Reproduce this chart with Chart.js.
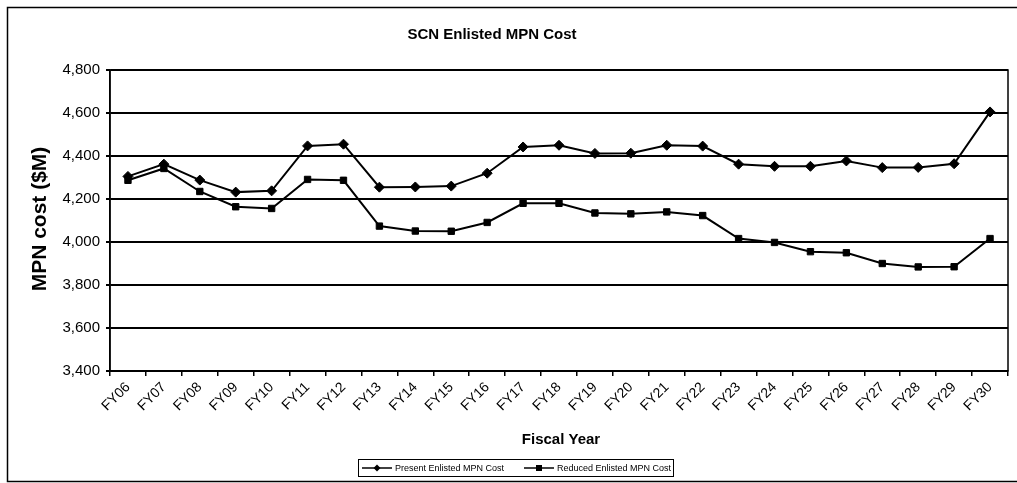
<!DOCTYPE html>
<html>
<head>
<meta charset="utf-8">
<script src="https://cdn.jsdelivr.net/npm/chart.js@4.4.1/dist/chart.umd.min.js"></script>
<style>
  html, body { margin: 0; padding: 0; background: #fff; }
  #wrap { width: 1017px; height: 483px; position: relative; }
</style>
</head>
<body>
<div id="wrap"><canvas id="myChart1" width="1017" height="483"></canvas></div>
<script>
// fiscal years on the x axis
const years = ["FY06","FY07","FY08","FY09","FY10","FY11","FY12","FY13","FY14","FY15","FY16","FY17","FY18",
  "FY19","FY20","FY21","FY22","FY23","FY24","FY25","FY26","FY27","FY28","FY29","FY30"];
// $M
const presentCost = [4305,4362,4288,4232,4238,4447,4455,4255,4256,4260,4320,4442,4450,
  4412,4413,4450,4446,4362,4352,4352,4377,4346,4347,4364,4605];
const reducedCost = [4287,4342,4235,4164,4156,4291,4287,4074,4051,4050,4091,4180,4180,
  4135,4131,4140,4123,4016,3998,3955,3950,3900,3884,3885,4016];
const yTicks = [3400,3600,3800,4000,4200,4400,4600,4800];

const titleText = "SCN Enlisted MPN Cost";
const xTitle = "Fiscal Year";
const yTitle = "MPN cost ($M)";
const legendNames = ["Present Enlisted MPN Cost", "Reduced Enlisted MPN Cost"];

const FONT = "'Liberation Sans', Arial, sans-serif";

// draws the frame, titles and the boxed legend
const decor = {
  id: "decor",
  afterDraw(chart) {
    const ctx = chart.ctx, a = chart.chartArea;
    ctx.save();
    ctx.strokeStyle = "#000";
    // outer frame
    ctx.lineWidth = 1.5;
    ctx.strokeRect(7.5, 7.5, 1030, 474);
    // plot frame
    ctx.strokeRect(a.left, a.top, a.right - a.left, a.bottom - a.top);

    ctx.fillStyle = "#000";
    ctx.textAlign = "center";
    ctx.textBaseline = "middle";
    ctx.font = "bold 15px " + FONT;
    ctx.fillText(titleText, 492, 35);
    ctx.fillText(xTitle, 561, 440);

    ctx.save();
    ctx.translate(40, 219);
    ctx.rotate(-Math.PI / 2);
    ctx.font = "bold 21px " + FONT;
    ctx.fillText(yTitle, 0, 0);
    ctx.restore();

    // legend
    ctx.lineWidth = 1;
    ctx.strokeRect(358.5, 459.5, 315, 17);
    const ly = 468;
    const items = [
      { x: 362, style: "diamond" },
      { x: 524, style: "square" }
    ];
    ctx.font = "9px " + FONT;
    ctx.textAlign = "left";
    items.forEach((it, i) => {
      ctx.lineWidth = 1.5;
      ctx.beginPath();
      ctx.moveTo(it.x, ly);
      ctx.lineTo(it.x + 30, ly);
      ctx.stroke();
      const cx = it.x + 15;
      ctx.beginPath();
      if (it.style === "diamond") {
        ctx.moveTo(cx, ly - 3.5); ctx.lineTo(cx + 3.5, ly); ctx.lineTo(cx, ly + 3.5); ctx.lineTo(cx - 3.5, ly);
        ctx.closePath();
      } else {
        ctx.rect(cx - 3, ly - 3, 6, 6);
      }
      ctx.fill();
      ctx.fillText(legendNames[i], it.x + 33, ly + 0.5);
    });
    ctx.restore();
  }
};

new Chart(document.getElementById("myChart1"), {
  type: "line",
  data: {
    labels: years,
    datasets: [
      {
        label: legendNames[0],
        data: presentCost,
        borderColor: "#000",
        backgroundColor: "#000",
        borderWidth: 2,
        pointStyle: "rectRot",
        pointRadius: 5,
        pointBorderWidth: 1,
        tension: 0
      },
      {
        label: legendNames[1],
        data: reducedCost,
        borderColor: "#000",
        backgroundColor: "#000",
        borderWidth: 2,
        pointStyle: "rect",
        pointRadius: 4.5,
        pointBorderWidth: 1,
        tension: 0
      }
    ]
  },
  options: {
    responsive: false,
    animation: false,
    layout: { padding: { left: 0, right: 9, top: 70, bottom: 0 } },
    plugins: {
      legend: { display: false },
      title: { display: false },
      tooltip: { enabled: false }
    },
    scales: {
      x: {
        offset: true,
        grid: {
          offset: true,
          drawOnChartArea: false,
          color: "#000",
          lineWidth: 1.5,
          tickLength: 5
        },
        border: { color: "#000", width: 1.5 },
        ticks: {
          color: "#000",
          font: { family: FONT, size: 14 },
          minRotation: 45,
          maxRotation: 45,
          autoSkip: false,
          padding: 3
        },
        afterFit(scale) { scale.height = 112; }
      },
      y: {
        min: 3400,
        max: 4800,
        afterBuildTicks(scale) { scale.ticks = yTicks.map(v => ({ value: v })); },
        grid: {
          color: "#000",
          lineWidth: 2,
          tickLength: 4
        },
        border: { color: "#000", width: 1.5 },
        ticks: {
          color: "#000",
          font: { family: FONT, size: 15 },
          padding: 6,
          callback: v => v.toLocaleString("en-US")
        },
        afterFit(scale) { scale.width = 110; }
      }
    }
  },
  plugins: [decor]
});
</script>
</body>
</html>
